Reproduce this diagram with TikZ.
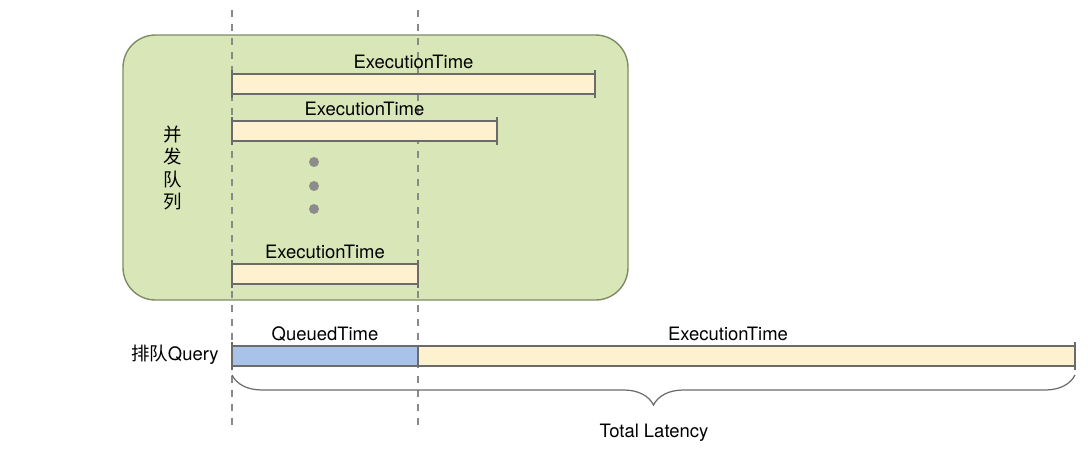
\documentclass[tikz,border=0pt]{standalone}
\usepackage{fontspec}
\setmainfont{TeX Gyre Heros}
\newfontfamily\cjk{Noto Sans CJK SC}
\usetikzlibrary{decorations.pathreplacing}
\definecolor{queuegreen}{HTML}{D9E7B8}
\definecolor{queueedge}{HTML}{7E8C66}
\definecolor{execcream}{HTML}{FDF1CF}
\definecolor{waitblue}{HTML}{A8C2EA}
\definecolor{barline}{HTML}{6B6B6B}

\begin{document}
\begin{tikzpicture}[font=\fontsize{10.5}{12}\selectfont,
	bar/.style={draw=barline, line width=0.7pt},
	guide/.style={draw=barline!80, dash pattern=on 4pt off 4pt, line width=0.7pt}]
	\useasboundingbox (0,0) rectangle (21.76,9.08);
	% concurrency pool
	\draw[fill=queuegreen, draw=queueedge, line width=0.8pt, rounded corners=0.65cm] (2.46,3.08) rectangle (12.56,8.38);
	\node[font=\cjk\fontsize{10.5}{12.8}\selectfont, align=center] (pool) at (3.46,5.72) {并\\发\\队\\列};
	% guides
	\draw[guide] (4.64,8.88) -- (4.64,0.58);
	\draw[guide] (8.36,8.88) -- (8.36,0.58);
	% running queries
	\foreach \xe/\yb [count=\i] in {11.90/7.20, 9.94/6.26, 8.36/3.40} {
		\draw[bar, fill=execcream] (4.64,\yb) rectangle (\xe,\yb+0.4);
		\draw[bar] (4.64,\yb-0.08) -- (4.64,\yb+0.48);
		\draw[bar] (\xe,\yb-0.08) -- (\xe,\yb+0.48);
		\node[above, inner sep=2.5pt] (exec\i) at ({(4.64+\xe)/2},\yb+0.4) {ExecutionTime};
	}
	\foreach \y in {5.84,5.36,4.90}
		\fill[black!45] (6.28,\y) circle (0.1);
	% queued query
	\node[anchor=east, inner sep=0pt] (query) at (4.38,1.98) {{\cjk 排队}Query};
	\draw[bar, fill=waitblue] (4.64,1.76) rectangle (8.36,2.16);
	\draw[bar, fill=execcream] (8.36,1.76) rectangle (21.50,2.16);
	\draw[bar] (4.64,1.68) -- (4.64,2.24);
	\draw[bar] (21.50,1.68) -- (21.50,2.24);
	\node[above, inner sep=2.5pt] (queued) at (6.50,2.16) {QueuedTime};
	\node[above, inner sep=2.5pt] (execq) at (14.56,2.16) {ExecutionTime};
	% total
	\coordinate (bstart) at (4.64,1.58);
	\coordinate (bend) at (21.50,1.58);
	\draw[bar, decorate, decoration={brace, mirror, amplitude=0.6cm}] (bstart) -- (bend);
	\node (total) at (13.08,0.42) {Total Latency};
\end{tikzpicture}
\end{document}
